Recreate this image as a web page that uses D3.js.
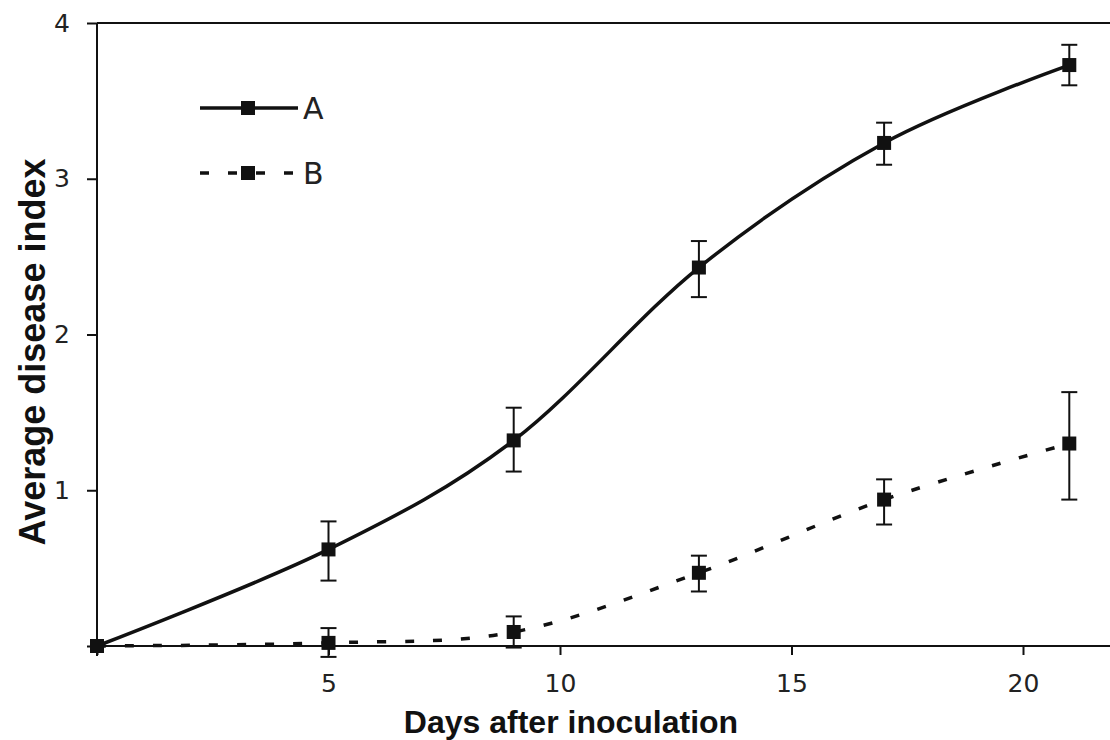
<!DOCTYPE html>
<html>
<head>
<meta charset="utf-8">
<script src="https://cdn.jsdelivr.net/npm/d3@7"></script>
<style>
  html, body { margin: 0; padding: 0; background: #fff; }
  svg { display: block; }
</style>
</head>
<body>
<svg id="chart" width="1110" height="740"></svg>
<script>
// ---- data ----
const days = [0, 5, 9, 13, 17, 21];
const seriesA = [0, 0.62, 1.32, 2.43, 3.23, 3.73];
const seriesA_lo = [0, 0.42, 1.12, 2.24, 3.09, 3.60];
const seriesA_hi = [0, 0.80, 1.53, 2.60, 3.36, 3.86];
const seriesB = [0, 0.02, 0.09, 0.47, 0.94, 1.30];
const seriesB_lo = [0, -0.07, -0.01, 0.35, 0.78, 0.94];
const seriesB_hi = [0, 0.115, 0.19, 0.58, 1.07, 1.63];
const xTicks = [0, 5, 10, 15, 20];
const yTicks = [0, 1, 2, 3, 4];
const seriesNames = ["A", "B"];

const svg = d3.select("#chart");
const x = d3.scaleLinear().domain([0, 22]).range([97, 97 + 22 * 46.3]);
const y = d3.scaleLinear().domain([0, 4]).range([646, 23]);

const ink = "#111";

// top line at y=4
svg.append("line")
  .attr("x1", x(0)).attr("x2", 1110)
  .attr("y1", y(4)).attr("y2", y(4))
  .attr("stroke", ink).attr("stroke-width", 2);

// x axis
const xAxis = svg.append("g").attr("transform", `translate(0,${y(0)})`)
  .call(d3.axisBottom(x).tickValues(xTicks).tickSize(9).tickPadding(19)
    .tickFormat(d => d === 0 ? "" : d));
xAxis.select(".domain").attr("d", `M${x(0)},0H1110`).attr("stroke", ink).attr("stroke-width", 2);
xAxis.selectAll(".tick line").attr("stroke", ink).attr("stroke-width", 2);
xAxis.selectAll(".tick text").attr("font-family", "DejaVu Sans").attr("font-size", 25).attr("fill", "#222");

// y axis
const yAxis = svg.append("g").attr("transform", `translate(${x(0)},0)`)
  .call(d3.axisLeft(y).tickValues(yTicks).tickSize(10).tickPadding(17)
    .tickFormat(d => d === 0 ? "" : d));
yAxis.select(".domain").attr("d", `M0,${y(4)}V${y(0) + 10}`).attr("stroke", ink).attr("stroke-width", 2);
yAxis.selectAll(".tick line").attr("stroke", ink).attr("stroke-width", 2);
yAxis.selectAll(".tick text").attr("font-family", "DejaVu Sans").attr("font-size", 25).attr("fill", "#222");

// axis titles
svg.append("text")
  .attr("x", 571).attr("y", 733)
  .attr("text-anchor", "middle")
  .attr("font-family", "Liberation Sans, Arial, sans-serif")
  .attr("font-weight", "bold").attr("font-size", 32).attr("fill", ink)
  .text("Days after inoculation");

svg.append("text")
  .attr("transform", "translate(45,352) rotate(-90)")
  .attr("text-anchor", "middle")
  .attr("font-family", "Liberation Sans, Arial, sans-serif")
  .attr("font-weight", "bold").attr("font-size", 36).attr("fill", ink)
  .text("Average disease index");

// series
const series = [
  { name: seriesNames[0], v: seriesA, lo: seriesA_lo, hi: seriesA_hi, dash: null },
  { name: seriesNames[1], v: seriesB, lo: seriesB_lo, hi: seriesB_hi, dash: "9,19" }
];

const line = d3.line().x(d => x(d[0])).y(d => y(d[1])).curve(d3.curveCardinal.tension(0));

series.forEach(s => {
  const pts = days.map((d, i) => [d, s.v[i]]);
  svg.append("path")
    .attr("d", line(pts))
    .attr("fill", "none").attr("stroke", ink).attr("stroke-width", 3.5)
    .attr("stroke-dasharray", s.dash);

  const g = svg.append("g");
  days.forEach((d, i) => {
    if (s.hi[i] !== s.lo[i]) {
      g.append("line").attr("x1", x(d)).attr("x2", x(d))
        .attr("y1", y(s.lo[i])).attr("y2", y(s.hi[i]))
        .attr("stroke", ink).attr("stroke-width", 2);
      [s.lo[i], s.hi[i]].forEach(v => {
        g.append("line").attr("x1", x(d) - 8).attr("x2", x(d) + 8)
          .attr("y1", y(v)).attr("y2", y(v))
          .attr("stroke", ink).attr("stroke-width", 2);
      });
    }
    g.append("rect")
      .attr("x", x(d) - 7).attr("y", y(s.v[i]) - 7)
      .attr("width", 14).attr("height", 14).attr("fill", ink);
  });
});

// legend
const legend = svg.append("g");
series.forEach((s, i) => {
  const ly = 108 + i * 65;
  legend.append("line").attr("x1", 200).attr("x2", 298)
    .attr("y1", ly).attr("y2", ly)
    .attr("stroke", ink).attr("stroke-width", 3.5)
    .attr("stroke-dasharray", s.dash ? "9,19" : null);
  legend.append("rect").attr("x", 241).attr("y", ly - 7)
    .attr("width", 14).attr("height", 14).attr("fill", ink);
  legend.append("text").attr("x", 303).attr("y", ly + 11)
    .attr("font-family", "DejaVu Sans").attr("font-size", 30)
    .attr("fill", "#222").text(s.name);
});
</script>
</body>
</html>
